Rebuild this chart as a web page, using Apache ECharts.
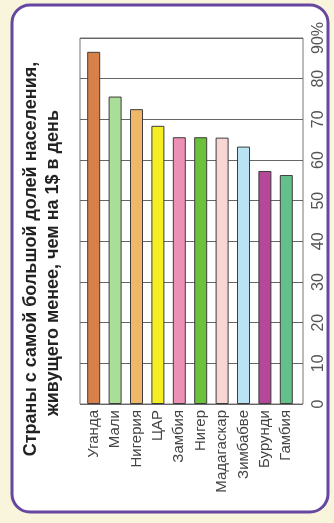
<!DOCTYPE html>
<html>
<head>
<meta charset="utf-8">
<script src="https://cdn.jsdelivr.net/npm/echarts@6/dist/echarts.min.js"></script>
<style>
    html, body { margin: 0; padding: 0; }
    #chart { width: 334px; height: 523px; }
</style>
</head>
<body>
<div id="chart"></div>
<script>
// данные
var countries = ['Уганда', 'Мали', 'Нигерия', 'ЦАР', 'Замбия', 'Нигер', 'Мадагаскар', 'Зимбабве', 'Бурунди', 'Гамбия'];
var shares = [86.6, 75.6, 72.5, 68.4, 65.6, 65.6, 65.5, 63.3, 57.3, 56.3];
var barColors = ['#d8804a', '#a9dd98', '#f1b768', '#f4ee22', '#ec90b6', '#6cc13a', '#f7d6d4', '#b9e2f4', '#b6489a', '#63c08a'];
var titleLines = ['Страны с самой большой долей населения,', 'живущего менее, чем на 1$ в день'];

var myChart = echarts.init(document.getElementById('chart'));

var option = {
    backgroundColor: '#f9f4dc',
    animation: false,
    graphic: [
        {
            type: 'rect',
            z: -10,
            shape: { x: 12, y: 5, width: 316, height: 507, r: 18 },
            style: { fill: '#ffffff', stroke: '#6547a0', lineWidth: 3 }
        },
        {
            type: 'text',
            x: 31, y: 259,
            rotation: Math.PI / 2,
            style: {
                text: titleLines[0],
                font: 'bold 18px "Liberation Sans", Arial, sans-serif',
                fill: '#222',
                textAlign: 'center',
                textVerticalAlign: 'middle'
            }
        },
        {
            type: 'text',
            x: 53, y: 263,
            rotation: Math.PI / 2,
            style: {
                text: titleLines[1],
                font: 'bold 18px "Liberation Sans", Arial, sans-serif',
                fill: '#222',
                textAlign: 'center',
                textVerticalAlign: 'middle'
            }
        }
    ],
    grid: [
        // столбики
        { left: 83, width: 214, top: 38, height: 366 },
        // рамка и линии сетки
        { left: 80, width: 223, top: 38, height: 366, show: true, borderColor: '#777', borderWidth: 1, backgroundColor: 'transparent' }
    ],
    xAxis: [
        {
            type: 'category',
            gridIndex: 0,
            data: countries,
            axisLine: { show: false },
            axisTick: { show: false },
            axisLabel: {
                rotate: 90,
                interval: 0,
                margin: 6,
                color: '#444',
                fontSize: 15,
                fontFamily: '"Liberation Sans", Arial, sans-serif'
            }
        },
        { type: 'value', gridIndex: 1, show: false, min: 0, max: 1 }
    ],
    yAxis: [
        { type: 'value', gridIndex: 0, min: 0, max: 90, show: false },
        {
            type: 'value',
            gridIndex: 1,
            position: 'right',
            min: 0, max: 90, interval: 10,
            axisLine: { show: false },
            axisTick: { show: false },
            splitLine: { lineStyle: { color: '#666', width: 1 } },
            axisLabel: {
                rotate: 90,
                margin: 8,
                color: '#555',
                fontSize: 16,
                fontFamily: '"Liberation Sans", Arial, sans-serif',
                formatter: function (v) {
                    return v === 90 ? '90%' : v;
                }
            }
        }
    ],
    series: [
        {
            type: 'bar',
            xAxisIndex: 0,
            yAxisIndex: 0,
            barWidth: 13,
            data: shares.map(function (v, i) {
                return { value: v, itemStyle: { color: barColors[i] } };
            }),
            itemStyle: { borderColor: '#3c3c3c', borderWidth: 1 }
        },
        { type: 'line', xAxisIndex: 1, yAxisIndex: 1, data: [] }
    ]
};
myChart.setOption(option);
</script>
</body>
</html>
